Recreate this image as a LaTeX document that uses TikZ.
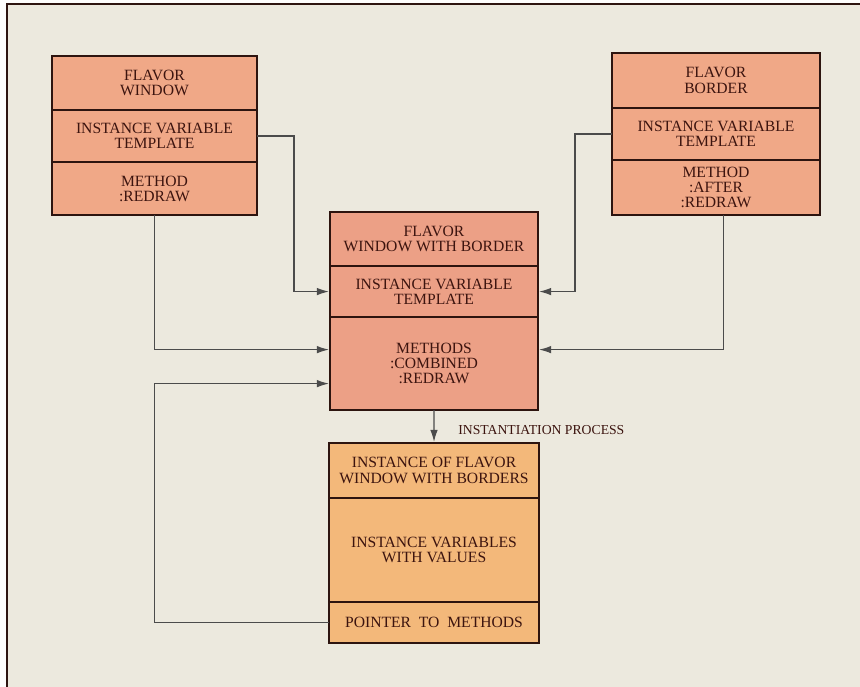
\documentclass[tikz,border=0pt]{standalone}
\usepackage{fontspec}
\setmainfont{Liberation Serif}
\usetikzlibrary{positioning,calc,arrows.meta}

\definecolor{paper}{RGB}{236,233,222}
\definecolor{flavor}{RGB}{240,168,135}
\definecolor{combo}{RGB}{236,160,134}
\definecolor{inst}{RGB}{243,184,122}
\definecolor{ink}{RGB}{60,20,15}
\definecolor{edge}{RGB}{45,20,15}
\definecolor{wire}{RGB}{75,75,75}

\begin{document}
\begin{tikzpicture}[x=0.02cm,y=-0.02cm,
		font=\fontsize{8.9}{8.7}\selectfont,
		node distance=0pt,
		part/.style={draw=edge, line width=0.6pt, fill=#1, text=ink, align=center, inner sep=0pt},
		outline/.style={draw=edge, line width=1.3pt},
		link/.style={draw=wire, line width=0.7pt, -{Latex[length=2.4mm,width=1.5mm]}, shorten >=0.6pt}]
		\useasboundingbox (0,0) rectangle (860,687);
		
		% Paper and frame
		\fill[white!92!paper] (0,0) rectangle (860,687);
		\fill[paper] (7,4) rectangle (860,687);
		\draw[draw=edge, line width=1.2pt] (7,687) -- (7,4) -- (860,4);
		
		% Flavor window (left)
		\node[part=flavor, minimum width=4.08cm, minimum height=1.06cm, anchor=north west] (aTitle) at (52,56) {FLAVOR\\WINDOW};
		\node[part=flavor, minimum width=4.08cm, minimum height=1.02cm, below=of aTitle] (aVars) {INSTANCE VARIABLE\\TEMPLATE};
		\node[part=flavor, minimum width=4.08cm, minimum height=1.04cm, below=of aVars] (aMeth) {METHOD\\:REDRAW};
		\draw[outline] (aTitle.north west) rectangle (aMeth.south east);
		
		% Flavor border (right)
		\node[part=flavor, minimum width=4.14cm, minimum height=1.08cm, anchor=north west] (bTitle) at (612,53) {FLAVOR\\BORDER};
		\node[part=flavor, minimum width=4.14cm, minimum height=1.02cm, below=of bTitle] (bVars) {INSTANCE VARIABLE\\TEMPLATE};
		\node[part=flavor, minimum width=4.14cm, minimum height=1.08cm, below=of bVars] (bMeth) {METHOD\\:AFTER\\:REDRAW};
		\draw[outline] (bTitle.north west) rectangle (bMeth.south east);
		
		% Combined flavor (middle)
		\node[part=combo, minimum width=4.14cm, minimum height=1.06cm, anchor=north west] (cTitle) at (330,212) {FLAVOR\\WINDOW WITH BORDER};
		\node[part=combo, minimum width=4.14cm, minimum height=1.0cm, below=of cTitle] (cVars) {INSTANCE VARIABLE\\TEMPLATE};
		\node[part=combo, minimum width=4.14cm, minimum height=1.84cm, below=of cVars] (cMeth) {METHODS\\:COMBINED\\:REDRAW};
		\draw[outline] (cTitle.north west) rectangle (cMeth.south east);
		
		% Instance (bottom)
		\node[part=inst, minimum width=4.18cm, minimum height=1.08cm, anchor=north west] (dTitle) at (329,443) {INSTANCE OF FLAVOR\\WINDOW WITH BORDERS};
		\node[part=inst, minimum width=4.18cm, minimum height=2.06cm, below=of dTitle] (dVars) {INSTANCE VARIABLES\\WITH VALUES};
		\node[part=inst, minimum width=4.18cm, minimum height=0.8cm, below=of dVars] (dPtr) {POINTER~~TO~~METHODS};
		\draw[outline] (dTitle.north west) rectangle (dPtr.south east);
		
		% Inheritance arrows
		\draw[link] (aVars.east) -- ++(37,0) |- (cVars.west);
		\draw[link] (aMeth.south) |- ($(cMeth.west)+(0,-14)$);
		\draw[link] (bVars.west) -- ++(-37,0) |- (cVars.east);
		\draw[link] ([xshift=0.15cm]bMeth.south) |- ($(cMeth.east)+(0,-14)$);
		
		% Pointer back to methods
		\coordinate (loopTop) at ($(cMeth.west)+(0,20)$);
		\draw[link] (dPtr.west) -| (aMeth.south |- loopTop) -- (loopTop);
		
		% Instantiation
		\draw[link] (cMeth.south) -- (dTitle.north);
		\node[anchor=west, inner sep=0pt, text=ink, font=\fontsize{7.8}{8}\selectfont] (instLabel) at (458,430) {INSTANTIATION PROCESS};
		
	\end{tikzpicture}
\end{document}
